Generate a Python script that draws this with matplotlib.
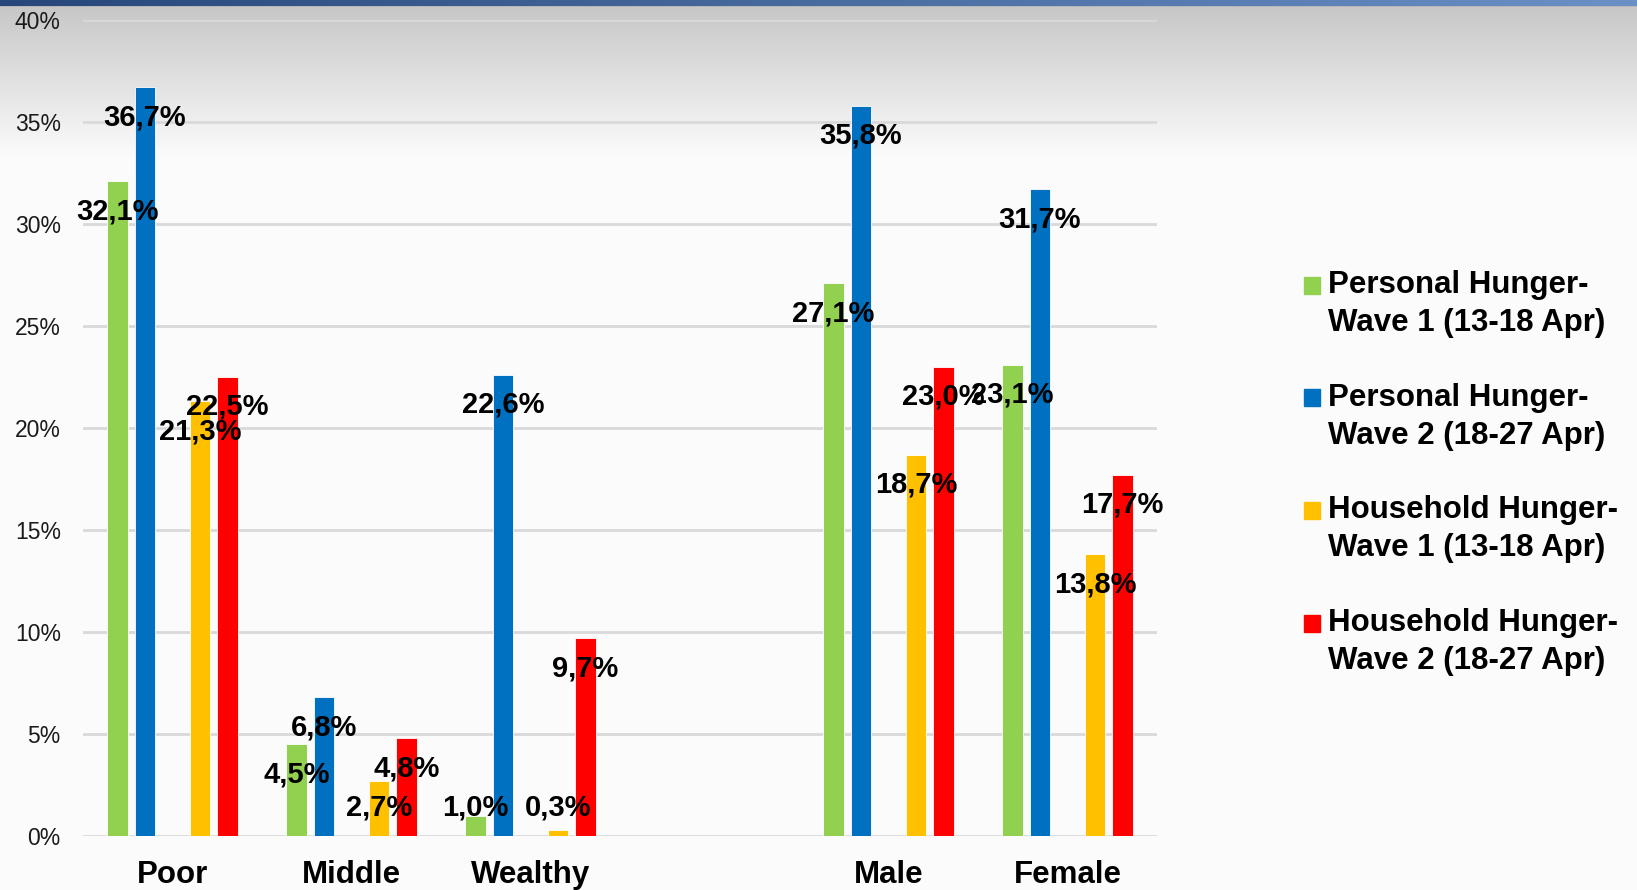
import numpy as np
import matplotlib
matplotlib.use("Agg")
import matplotlib.pyplot as plt
from matplotlib.patches import Rectangle
from matplotlib.colors import to_rgb

plt.rcParams["font.family"] = ["Liberation Sans", "DejaVu Sans"]

# Групи (порожня група дає проміжок між доходом і статтю)
categories = ["Poor", "Middle", "Wealthy", "", "Male", "Female"]

series_names = [
    "Personal Hunger-\nWave 1 (13-18 Apr)",
    "Personal Hunger-\nWave 2 (18-27 Apr)",
    "Household Hunger-\nWave 1 (13-18 Apr)",
    "Household Hunger-\nWave 2 (18-27 Apr)",
]
colors = ["#92d050", "#0070c0", "#ffc000", "#ff0000"]

# Значення у відсотках, None для порожньої групи
personal_w1 = [32.1, 4.5, 1.0, None, 27.1, 23.1]
personal_w2 = [36.7, 6.8, 22.6, None, 35.8, 31.7]
household_w1 = [21.3, 2.7, 0.3, None, 18.7, 13.8]
household_w2 = [22.5, 4.8, 9.7, None, 23.0, 17.7]

yticks = [0, 5, 10, 15, 20, 25, 30, 35, 40]

W, H = 1637, 890


# Фон: синя смуга зверху і сірий градієнт під нею
def draw_background(fig):
    rows = np.arange(H)
    t = np.clip((rows - 6) / 150.0, 0, 1)
    shade = 0.78 + (0.985 - 0.78) * t
    bg = np.repeat(np.repeat(shade[:, None, None], W, axis=1), 3, axis=2)
    left = np.array(to_rgb("#27477a"))
    right = np.array(to_rgb("#6a90c6"))
    cols = np.linspace(0, 1, W)[:, None]
    strip = left * (1 - cols) + right * cols
    bg[:6, :, :] = strip[None, :, :]
    bg[6, :, :] = 0.72
    ax_bg = fig.add_axes([0, 0, 1, 1], zorder=-10)
    ax_bg.imshow(bg, aspect="auto", interpolation="bilinear")
    ax_bg.axis("off")


def value_label(v):
    return f"{v:.1f}%".replace(".", ",")


def plot_bars(ax):
    data = [personal_w1, personal_w2, household_w1, household_w2]
    slot = 0.1536
    offsets = [-2 * slot, -slot, slot, 2 * slot]
    width = 0.117
    x = np.arange(len(categories))

    for values, off, color in zip(data, offsets, colors):
        for xi, v in zip(x, values):
            if v is None:
                continue
            ax.bar(xi + off, v, width=width, color=color,
                   edgecolor="white", linewidth=0.6, zorder=3)

    # Підписи значень поверх стовпчиків
    for values, off in zip(data, offsets):
        for xi, v in zip(x, values):
            if v is None:
                continue
            y = max(v - 1.47, 1.42)
            ax.text(xi + off, y, value_label(v), ha="center", va="center",
                    fontsize=21, fontweight="bold", color="black", zorder=5)

    ax.set_xlim(-0.5, len(categories) - 0.5)
    ax.set_ylim(0, 40)
    ax.set_xticks(x)
    ax.set_xticklabels(categories, fontsize=22.5, fontweight="bold")
    ax.set_yticks(yticks)
    ax.set_yticklabels([f"{v}%" for v in yticks], fontsize=16.5, color="#1a1a1a")
    ax.tick_params(axis="x", length=0, pad=17)
    ax.tick_params(axis="y", length=0, pad=16)
    ax.grid(axis="y", color="#d9d9d9", linewidth=2, zorder=0)
    ax.set_axisbelow(True)
    for sp in ax.spines.values():
        sp.set_visible(False)
    ax.set_facecolor("none")


# Легенда праворуч: квадрат на рівні першого рядка
def draw_legend(fig):
    first_y = 285
    step = 112.7
    for i, (name, color) in enumerate(zip(series_names, colors)):
        yc = first_y + i * step
        fig.add_artist(Rectangle((1304 / W, 1 - (yc + 8.5) / H), 16 / W, 17 / H,
                                 transform=fig.transFigure, color=color))
        for j, line in enumerate(name.split("\n")):
            fig.text(1328 / W, 1 - (yc + j * 38) / H, line, ha="left",
                     va="center", fontsize=22.5, fontweight="bold", color="black")


def main():
    fig = plt.figure(figsize=(W / 100, H / 100), dpi=100)
    draw_background(fig)
    ax = fig.add_axes([83 / W, 1 - 836 / H, 1074 / W, 816 / H])
    plot_bars(ax)
    draw_legend(fig)
    fig.savefig("out.png", dpi=100)


if __name__ == "__main__":
    main()
